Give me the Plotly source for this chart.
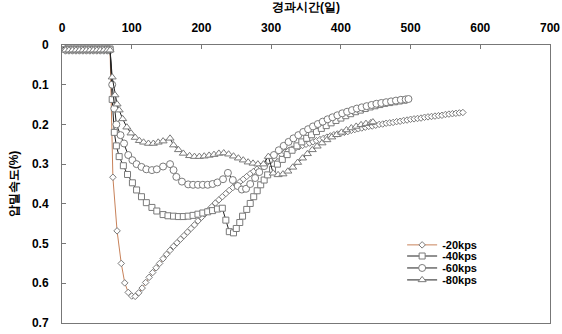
import plotly.graph_objects as go

# ---------------- data ----------------
init_days = [0, 5, 10, 15, 20, 25, 30, 35, 40, 45, 50, 55, 60, 65, 69]

d20_days = init_days + [73, 79, 85, 90, 95, 100, 105, 110, 115, 120, 125, 130, 135, 140, 145,
            150, 155, 160, 165, 170, 175, 180, 185, 190, 195, 200, 205, 210, 215, 220,
            225, 230, 235, 240, 245, 250, 255, 260, 265, 270, 275, 280, 285, 290, 295,
            300, 305, 310, 315, 320, 325, 330, 335, 340, 345, 350, 355, 360, 365, 370,
            375, 380, 385, 390, 395, 400, 405, 410, 415, 420, 425, 430, 435, 440, 445,
            450, 455, 460, 465, 470, 475, 480, 485, 490, 495, 500, 505, 510, 515, 520,
            525, 530, 535, 540, 545, 550, 555, 560, 565, 570, 575]
d20_vals = [0.0, 0.015, 0.015, 0.015, 0.015, 0.015, 0.015, 0.015, 0.015, 0.015, 0.015, 0.015, 0.015, 0.015, 0.015,
            0.333, 0.468, 0.55, 0.599, 0.623, 0.632, 0.633, 0.624, 0.612, 0.598, 0.585, 0.573, 0.561, 0.55, 0.538,
            0.527, 0.517, 0.507, 0.498, 0.489, 0.48, 0.471, 0.462, 0.453, 0.443, 0.434, 0.425, 0.416, 0.407, 0.398,
            0.39, 0.382, 0.374, 0.366, 0.359, 0.352, 0.345, 0.338, 0.331, 0.324, 0.318, 0.312, 0.306, 0.3, 0.295,
            0.29, 0.285, 0.28, 0.275, 0.27, 0.266, 0.262, 0.259, 0.256, 0.253, 0.25, 0.247, 0.244, 0.241, 0.238,
            0.235, 0.232, 0.229, 0.226, 0.224, 0.222, 0.22, 0.218, 0.215, 0.213, 0.211, 0.209, 0.207, 0.205, 0.204,
            0.202, 0.2, 0.199, 0.197, 0.196, 0.195, 0.193, 0.192, 0.19, 0.189, 0.187, 0.186, 0.185, 0.184, 0.182,
            0.181, 0.18, 0.179, 0.178, 0.177, 0.175, 0.174, 0.173, 0.172, 0.171, 0.17]

d40_days = init_days + [72, 75, 78, 82, 88, 94, 101, 107, 114, 121, 129, 136, 145, 152, 160,
            167, 174, 181, 188, 195, 202, 209, 216, 223, 230, 235, 240, 246, 250, 255,
            259, 265, 270, 275, 280, 285, 290, 295, 302, 309, 316, 323, 330, 337, 344,
            351, 358, 365, 372, 379, 386, 393, 400, 407, 414, 421, 428, 435, 442, 449,
            456, 463, 470, 477, 484, 491]
d40_vals = [0.0, 0.01, 0.01, 0.01, 0.01, 0.01, 0.01, 0.01, 0.01, 0.01, 0.01, 0.01, 0.01, 0.01, 0.01,
            0.137, 0.22, 0.254, 0.281, 0.304, 0.326, 0.347, 0.365, 0.382, 0.397, 0.409, 0.418, 0.427, 0.43, 0.431,
            0.432, 0.432, 0.431, 0.429, 0.426, 0.423, 0.42, 0.417, 0.413, 0.411, 0.441, 0.47, 0.473, 0.462, 0.447,
            0.431, 0.414, 0.399, 0.382, 0.367, 0.352, 0.34, 0.327, 0.313, 0.3, 0.288, 0.276, 0.265, 0.254, 0.244,
            0.235, 0.226, 0.218, 0.21, 0.203, 0.196, 0.19, 0.184, 0.178, 0.173, 0.168, 0.164, 0.16, 0.156, 0.153,
            0.15, 0.147, 0.145, 0.143, 0.141, 0.139]

d60_days = init_days + [72, 75, 78, 84, 89, 95, 101, 107, 114, 121, 129, 136, 145, 155, 160,
            164, 172, 181, 188, 195, 202, 209, 216, 223, 231, 238, 245, 252, 258, 264,
            270, 277, 283, 290, 297, 304, 311, 318, 325, 332, 339, 346, 353, 360, 367,
            374, 381, 388, 395, 402, 409, 416, 423, 430, 437, 444, 451, 458, 465, 472,
            479, 486, 493, 497]
d60_vals = [0.0, 0.012, 0.012, 0.012, 0.012, 0.012, 0.012, 0.012, 0.012, 0.012, 0.012, 0.012, 0.012, 0.012, 0.012,
            0.1, 0.16, 0.2, 0.227, 0.248, 0.277, 0.29, 0.3, 0.307, 0.313, 0.315, 0.313, 0.306, 0.3, 0.315,
            0.332, 0.344, 0.351, 0.352, 0.352, 0.352, 0.352, 0.35, 0.346, 0.338, 0.322, 0.34, 0.355, 0.364, 0.362,
            0.35, 0.335, 0.32, 0.305, 0.29, 0.277, 0.265, 0.254, 0.244, 0.235, 0.227, 0.219, 0.212, 0.205, 0.199,
            0.193, 0.187, 0.182, 0.177, 0.172, 0.168, 0.164, 0.16, 0.157, 0.154, 0.151, 0.148, 0.146, 0.144, 0.142,
            0.14, 0.138, 0.137, 0.136]

d80_days = init_days + [72, 76, 79, 82, 87, 93, 99, 105, 111, 117, 124, 131, 138, 145, 155,
            160, 167, 174, 183, 190, 197, 204, 211, 218, 225, 232, 239, 246, 253, 260,
            267, 274, 281, 289, 296, 303, 310, 317, 324, 331, 338, 345, 352, 359, 366,
            373, 380, 387, 394, 401, 408, 415, 422, 429, 436, 443, 446]
d80_vals = [0.0, 0.013, 0.013, 0.013, 0.013, 0.013, 0.013, 0.013, 0.013, 0.013, 0.013, 0.013, 0.013, 0.013, 0.013,
            0.081, 0.126, 0.149, 0.164, 0.186, 0.207, 0.222, 0.233, 0.241, 0.245, 0.248, 0.248, 0.245, 0.242, 0.235,
            0.252, 0.264, 0.273, 0.279, 0.281, 0.281, 0.28, 0.278, 0.276, 0.273, 0.272, 0.275, 0.28, 0.285, 0.29,
            0.295, 0.298, 0.3, 0.3, 0.281, 0.323, 0.327, 0.325, 0.318, 0.308, 0.296, 0.285, 0.274, 0.264, 0.255,
            0.247, 0.239, 0.232, 0.226, 0.22, 0.214, 0.209, 0.205, 0.201, 0.198, 0.196, 0.194]

series_names = ["-20kps", "-40kps", "-60kps", "-80kps"]
x_ticks = [0, 100, 200, 300, 400, 500, 600, 700]
y_ticks = [0, 0.1, 0.2, 0.3, 0.4, 0.5, 0.6, 0.7]
y_tick_text = ["0", "0.1", "0.2", "0.3", "0.4", "0.5", "0.6", "0.7"]

# ---------------- figure ----------------
fig = go.Figure()

styles = [
    dict(line_color="#c8825a", symbol="diamond", size=5),
    dict(line_color="#222222", symbol="square", size=6),
    dict(line_color="#222222", symbol="circle", size=7),
    dict(line_color="#222222", symbol="triangle-up", size=7),
]
all_x = [d20_days, d40_days, d60_days, d80_days]
all_y = [d20_vals, d40_vals, d60_vals, d80_vals]
legend_ids = ["legend", "legend2", "legend3", "legend4"]
legend_rows = [0.281, 0.241, 0.198, 0.155]

font_family = "Liberation Sans, Arial, sans-serif"
for name, xs, ys, st, lid in zip(series_names, all_x, all_y, styles, legend_ids):
    fig.add_trace(go.Scatter(
        x=xs, y=ys, name="<b>" + name + "</b>", mode="lines+markers",
        line=dict(color=st["line_color"], width=1),
        marker=dict(symbol=st["symbol"], size=st["size"], color="white",
                    line=dict(color="#7a7a7a", width=1)),
        legend=lid,
    ))

legend_common = dict(x=0.697, xanchor="left", yanchor="middle",
                     bgcolor="rgba(0,0,0,0)", font=dict(size=11, family=font_family),
                     itemwidth=30, borderwidth=0)
layout_legends = {lid: dict(y=yr, **legend_common) for lid, yr in zip(legend_ids, legend_rows)}

fig.update_layout(
    width=562, height=334,
    margin=dict(l=62, r=12, t=45, b=11),
    paper_bgcolor="white", plot_bgcolor="white",
    font=dict(family=font_family, size=12, color="black"),
    showlegend=True,
    xaxis=dict(
        side="top", range=[0, 700], tickmode="array",
        tickvals=x_ticks,
        ticktext=["<b>%d</b>" % v for v in x_ticks],
        ticks="inside", ticklen=4, tickcolor="#777777",
        ticklabelstandoff=7, automargin=False,
        showline=True, linecolor="#777777", linewidth=1, mirror=True,
        showgrid=False, zeroline=False,
        title=dict(text="<b>경과시간(일)</b>", standoff=9, font=dict(size=12)),
    ),
    yaxis=dict(
        range=[0.7, 0], tickmode="array",
        tickvals=y_ticks,
        ticktext=["<b>%s</b>" % t for t in y_tick_text],
        ticks="inside", ticklen=4, tickcolor="#777777",
        ticklabelstandoff=10, automargin=False,
        showline=True, linecolor="#777777", linewidth=1, mirror=True,
        showgrid=False, zeroline=False,
        title=dict(text="<b>압밀속도(%)</b>", standoff=10, font=dict(size=12)),
    ),
    **layout_legends,
)

# remove the default page margin so the 562x334 figure fills the window exactly
fig.write_html("out.html",
               config={"displayModeBar": False},
               post_script="document.body.style.margin='0px';document.body.style.overflow='hidden';")
